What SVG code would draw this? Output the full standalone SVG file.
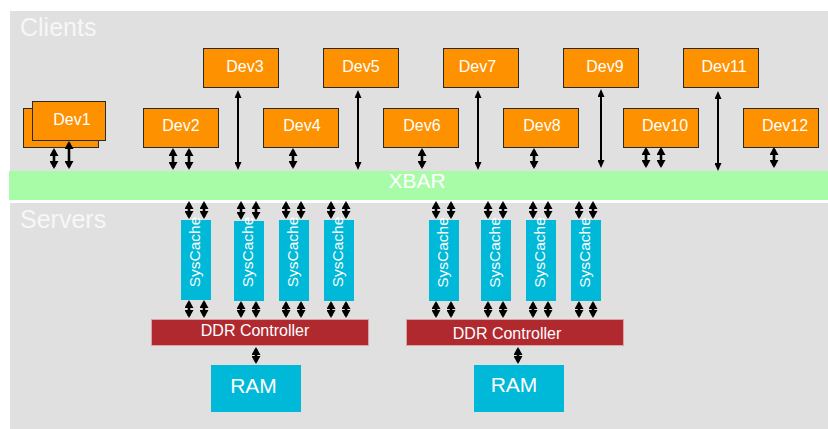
<svg xmlns="http://www.w3.org/2000/svg" width="828" height="429" viewBox="0 0 828 429">
  <style>
    .dev { fill: #fe9100; stroke: #2a2a2a; stroke-width: 1; }
    .devtxt { fill: #ffffff; font-family: "Liberation Sans", Arial, sans-serif; font-size: 16px; text-anchor: middle; }
    .title { fill: #f7f7f7; font-family: "Liberation Sans", Arial, sans-serif; font-size: 25px; }
    .cache { fill: #00b8d8; }
    .cachetxt { fill: #ffffff; font-family: "Liberation Sans", Arial, sans-serif; font-size: 15.5px; text-anchor: middle; }
    .ddr { fill: #b0292f; stroke: #d9a4a6; stroke-width: 1; }
    .ddrtxt { fill: #ffffff; font-family: "Liberation Sans", Arial, sans-serif; font-size: 16px; text-anchor: middle; }
    .ram { fill: #00b8d8; }
    .ramtxt { fill: #ffffff; font-family: "Liberation Sans", Arial, sans-serif; font-size: 21px; text-anchor: middle; }
    .short { stroke: #000; stroke-width: 2.6; fill: none; marker-start: url(#headS); marker-end: url(#headS); }
    .long { stroke: #000; stroke-width: 2; fill: none; marker-start: url(#headL); marker-end: url(#headL); }
  </style>
  <defs>
    <!-- bold head for the short links -->
    <marker id="headS" viewBox="0 0 8 9" refX="6" refY="4.5" markerWidth="8" markerHeight="9" markerUnits="userSpaceOnUse" orient="auto-start-reverse">
      <path d="M0,0 L8,4.5 L0,9 z" fill="#000"/>
    </marker>
    <!-- slimmer head for the long links -->
    <marker id="headL" viewBox="0 0 8 7" refX="6" refY="3.5" markerWidth="8" markerHeight="7" markerUnits="userSpaceOnUse" orient="auto-start-reverse">
      <path d="M0,0 L8,3.5 L0,7 z" fill="#000"/>
    </marker>
  </defs>

  <!-- background panels -->
  <rect x="0" y="0" width="828" height="429" fill="#ffffff"/>
  <rect x="10" y="11" width="818" height="189" fill="#e0e0e0"/>
  <rect x="10" y="203" width="818" height="226" fill="#e0e0e0"/>
  <text class="title" x="20" y="35.5">Clients</text>
  <text class="title" x="20" y="228">Servers</text>

  <!-- crossbar -->
  <g id="xbar">
    <rect x="9" y="171" width="819" height="29" fill="#a8fca8"/>
    <text x="417" y="188" fill="#ffffff" font-family="Liberation Sans, Arial, sans-serif" font-size="21" text-anchor="middle">XBAR</text>
  </g>

  <!-- client devices -->
  <g id="dev1">
    <rect class="dev" x="23.5" y="108.5" width="75" height="39"/>
    <rect class="dev" x="32.5" y="101.5" width="73" height="39" stroke-width="1.3"/>
    <text class="devtxt" x="72" y="125">Dev1</text>
  </g>
  <g id="dev2"><rect class="dev" x="143.5" y="108.5" width="75" height="39"/><text class="devtxt" x="181" y="130.7">Dev2</text></g>
  <g id="dev3"><rect class="dev" x="203.5" y="48.5" width="75" height="39"/><text class="devtxt" x="245" y="72">Dev3</text></g>
  <g id="dev4"><rect class="dev" x="263.5" y="108.5" width="75" height="39"/><text class="devtxt" x="302" y="130.7">Dev4</text></g>
  <g id="dev5"><rect class="dev" x="323.5" y="48.5" width="75" height="39"/><text class="devtxt" x="361" y="72">Dev5</text></g>
  <g id="dev6"><rect class="dev" x="383.5" y="108.5" width="75" height="39"/><text class="devtxt" x="422" y="130.7">Dev6</text></g>
  <g id="dev7"><rect class="dev" x="443.5" y="48.5" width="75" height="39"/><text class="devtxt" x="477.5" y="72">Dev7</text></g>
  <g id="dev8"><rect class="dev" x="503.5" y="108.5" width="75" height="39"/><text class="devtxt" x="542" y="130.7">Dev8</text></g>
  <g id="dev9"><rect class="dev" x="563.5" y="48.5" width="75" height="39"/><text class="devtxt" x="605" y="72">Dev9</text></g>
  <g id="dev10"><rect class="dev" x="623.5" y="108.5" width="75" height="39"/><text class="devtxt" x="665" y="130.7">Dev10</text></g>
  <g id="dev11"><rect class="dev" x="683.5" y="48.5" width="75" height="39"/><text class="devtxt" x="724" y="72">Dev11</text></g>
  <g id="dev12"><rect class="dev" x="743.5" y="108.5" width="75" height="39"/><text class="devtxt" x="785" y="130.7">Dev12</text></g>

  <!-- system caches -->
  <g id="syscache1"><rect class="cache" x="181" y="220" width="30" height="80"/><text class="cachetxt" transform="translate(199.5,252) rotate(-90)">SysCache</text></g>
  <g id="syscache2"><rect class="cache" x="234" y="221" width="30" height="80"/><text class="cachetxt" transform="translate(252.5,252) rotate(-90)">SysCache</text></g>
  <g id="syscache3"><rect class="cache" x="279" y="220" width="30" height="81"/><text class="cachetxt" transform="translate(297.5,252) rotate(-90)">SysCache</text></g>
  <g id="syscache4"><rect class="cache" x="324" y="220" width="30" height="81"/><text class="cachetxt" transform="translate(342.5,252) rotate(-90)">SysCache</text></g>
  <g id="syscache5"><rect class="cache" x="429" y="220" width="30" height="81"/><text class="cachetxt" transform="translate(447.5,252.5) rotate(-90)">SysCache</text></g>
  <g id="syscache6"><rect class="cache" x="481" y="220" width="30" height="81"/><text class="cachetxt" transform="translate(499.5,252.5) rotate(-90)">SysCache</text></g>
  <g id="syscache7"><rect class="cache" x="526" y="220" width="30" height="81"/><text class="cachetxt" transform="translate(544.5,252.5) rotate(-90)">SysCache</text></g>
  <g id="syscache8"><rect class="cache" x="571" y="220" width="30" height="81"/><text class="cachetxt" transform="translate(589.5,252.5) rotate(-90)">SysCache</text></g>

  <!-- memory controllers -->
  <g id="ddr1"><rect class="ddr" x="151.5" y="319.5" width="217" height="26"/><text class="ddrtxt" x="255" y="336">DDR Controller</text></g>
  <g id="ddr2"><rect class="ddr" x="406.5" y="319.5" width="217" height="26"/><text class="ddrtxt" x="507" y="339">DDR Controller</text></g>

  <!-- memories -->
  <g id="ram1"><rect class="ram" x="211" y="365" width="90" height="47"/><text class="ramtxt" x="253.5" y="392.7">RAM</text></g>
  <g id="ram2"><rect class="ram" x="474" y="365" width="90" height="47"/><text class="ramtxt" x="514" y="391.5">RAM</text></g>

  <!-- connectors -->
  <g id="connectors">
    <!-- clients to crossbar -->
    <line class="short" x1="54" y1="150" x2="54" y2="167"/>
    <line class="short" x1="69" y1="143" x2="69" y2="167"/>
    <line class="short" x1="173" y1="150" x2="173" y2="168"/>
    <line class="short" x1="189" y1="150" x2="189" y2="168"/>
    <line class="short" x1="293" y1="150" x2="293" y2="167"/>
    <line class="short" x1="422" y1="150" x2="422" y2="167"/>
    <line class="short" x1="534" y1="150" x2="534" y2="167"/>
    <line class="short" x1="646" y1="149" x2="646" y2="166"/>
    <line class="short" x1="661" y1="149" x2="661" y2="166"/>
    <line class="short" x1="774" y1="149" x2="774" y2="166"/>
    <line class="long" x1="238" y1="92" x2="238" y2="168"/>
    <line class="long" x1="358" y1="92" x2="358" y2="168"/>
    <line class="long" x1="478" y1="92" x2="478" y2="168"/>
    <line class="long" x1="601" y1="91" x2="601" y2="166"/>
    <line class="long" x1="718" y1="93" x2="718" y2="169"/>

    <!-- crossbar to caches -->
    <line class="short" x1="189" y1="203" x2="189" y2="217"/>
    <line class="short" x1="204" y1="203" x2="204" y2="217"/>
    <line class="short" x1="241" y1="203" x2="241" y2="218"/>
    <line class="short" x1="256" y1="203" x2="256" y2="218"/>
    <line class="short" x1="286" y1="203" x2="286" y2="217"/>
    <line class="short" x1="301" y1="203" x2="301" y2="217"/>
    <line class="short" x1="331" y1="203" x2="331" y2="217"/>
    <line class="short" x1="346" y1="203" x2="346" y2="217"/>
    <line class="short" x1="436" y1="203" x2="436" y2="217"/>
    <line class="short" x1="451" y1="203" x2="451" y2="217"/>
    <line class="short" x1="488" y1="203" x2="488" y2="217"/>
    <line class="short" x1="503" y1="203" x2="503" y2="217"/>
    <line class="short" x1="533" y1="203" x2="533" y2="217"/>
    <line class="short" x1="548" y1="203" x2="548" y2="217"/>
    <line class="short" x1="579" y1="203" x2="579" y2="217"/>
    <line class="short" x1="593" y1="203" x2="593" y2="217"/>

    <!-- caches to controllers -->
    <line class="short" x1="189" y1="302" x2="189" y2="316"/>
    <line class="short" x1="204" y1="302" x2="204" y2="316"/>
    <line class="short" x1="241" y1="303" x2="241" y2="316"/>
    <line class="short" x1="256" y1="303" x2="256" y2="316"/>
    <line class="short" x1="286" y1="303" x2="286" y2="316"/>
    <line class="short" x1="301" y1="303" x2="301" y2="316"/>
    <line class="short" x1="331" y1="303" x2="331" y2="316"/>
    <line class="short" x1="346" y1="303" x2="346" y2="316"/>
    <line class="short" x1="436" y1="303" x2="436" y2="316"/>
    <line class="short" x1="451" y1="303" x2="451" y2="316"/>
    <line class="short" x1="488" y1="303" x2="488" y2="316"/>
    <line class="short" x1="503" y1="303" x2="503" y2="316"/>
    <line class="short" x1="533" y1="303" x2="533" y2="316"/>
    <line class="short" x1="548" y1="303" x2="548" y2="316"/>
    <line class="short" x1="579" y1="303" x2="579" y2="316"/>
    <line class="short" x1="593" y1="303" x2="593" y2="316"/>

    <!-- controllers to memories -->
    <line class="short" x1="256" y1="349" x2="256" y2="362"/>
    <line class="short" x1="518" y1="349" x2="518" y2="362"/>
  </g>
</svg>
